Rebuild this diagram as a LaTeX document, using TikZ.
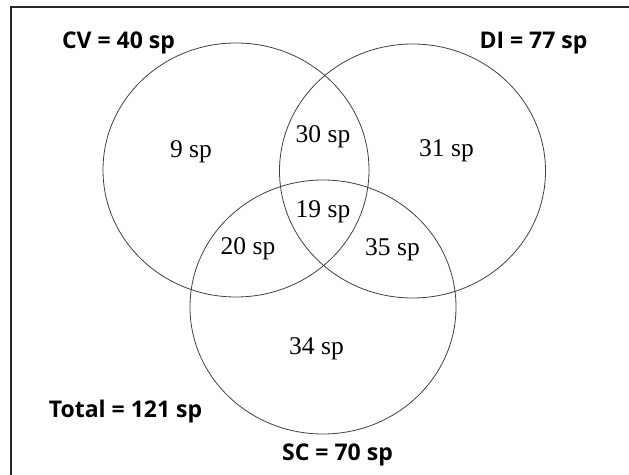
\documentclass[tikz,border=0pt]{standalone}
\usepackage{fontspec}
\setmainfont{Liberation Serif}
\newfontfamily\labelfont{Open Sans}
\usetikzlibrary{shapes.geometric}
\tikzset{
  setcircle/.style={ellipse, draw=black!75, line width=0.8bp, minimum width=266bp, minimum height=254bp, inner sep=0pt},
  countlabel/.style={anchor=base, inner sep=0pt, font=\fontsize{25.5bp}{30bp}\selectfont},
  setlabel/.style={anchor=base, inner sep=0pt, font=\labelfont\bfseries\fontsize{23bp}{28bp}\selectfont},
}
\begin{document}
\begin{tikzpicture}[x=1bp,y=-1bp]
\useasboundingbox (0,0) rectangle (629,475);
\coordinate (bl) at (11,476);
\coordinate (tl) at (11,7);
\coordinate (tr) at (630,7);
\draw[line width=1.3bp, black!85] (bl) -- (tl) -- (tr);
\node[setcircle] (cv) at (236,170) {};
\node[setcircle] (di) at (412.5,171) {};
\node[setcircle] (sc) at (323,307) {};
\node[countlabel] (n9) at (191,158) {9 sp};
\node[countlabel] (n30) at (323,143) {30 sp};
\node[countlabel] (n31) at (446.5,157) {31 sp};
\node[countlabel] (n19) at (323,218) {19 sp};
\node[countlabel] (n20) at (248,255) {20 sp};
\node[countlabel] (n35) at (392.5,256) {35 sp};
\node[countlabel] (n34) at (316.5,354) {34 sp};
\node[setlabel] (lcv) at (118.5,49) {CV = 40 sp};
\node[setlabel] (ldi) at (533.5,49) {DI = 77 sp};
\node[setlabel] (ltot) at (125.5,417) {Total = 121 sp};
\node[setlabel] (lsc) at (337.5,460) {SC = 70 sp};
\end{tikzpicture}
\end{document}
